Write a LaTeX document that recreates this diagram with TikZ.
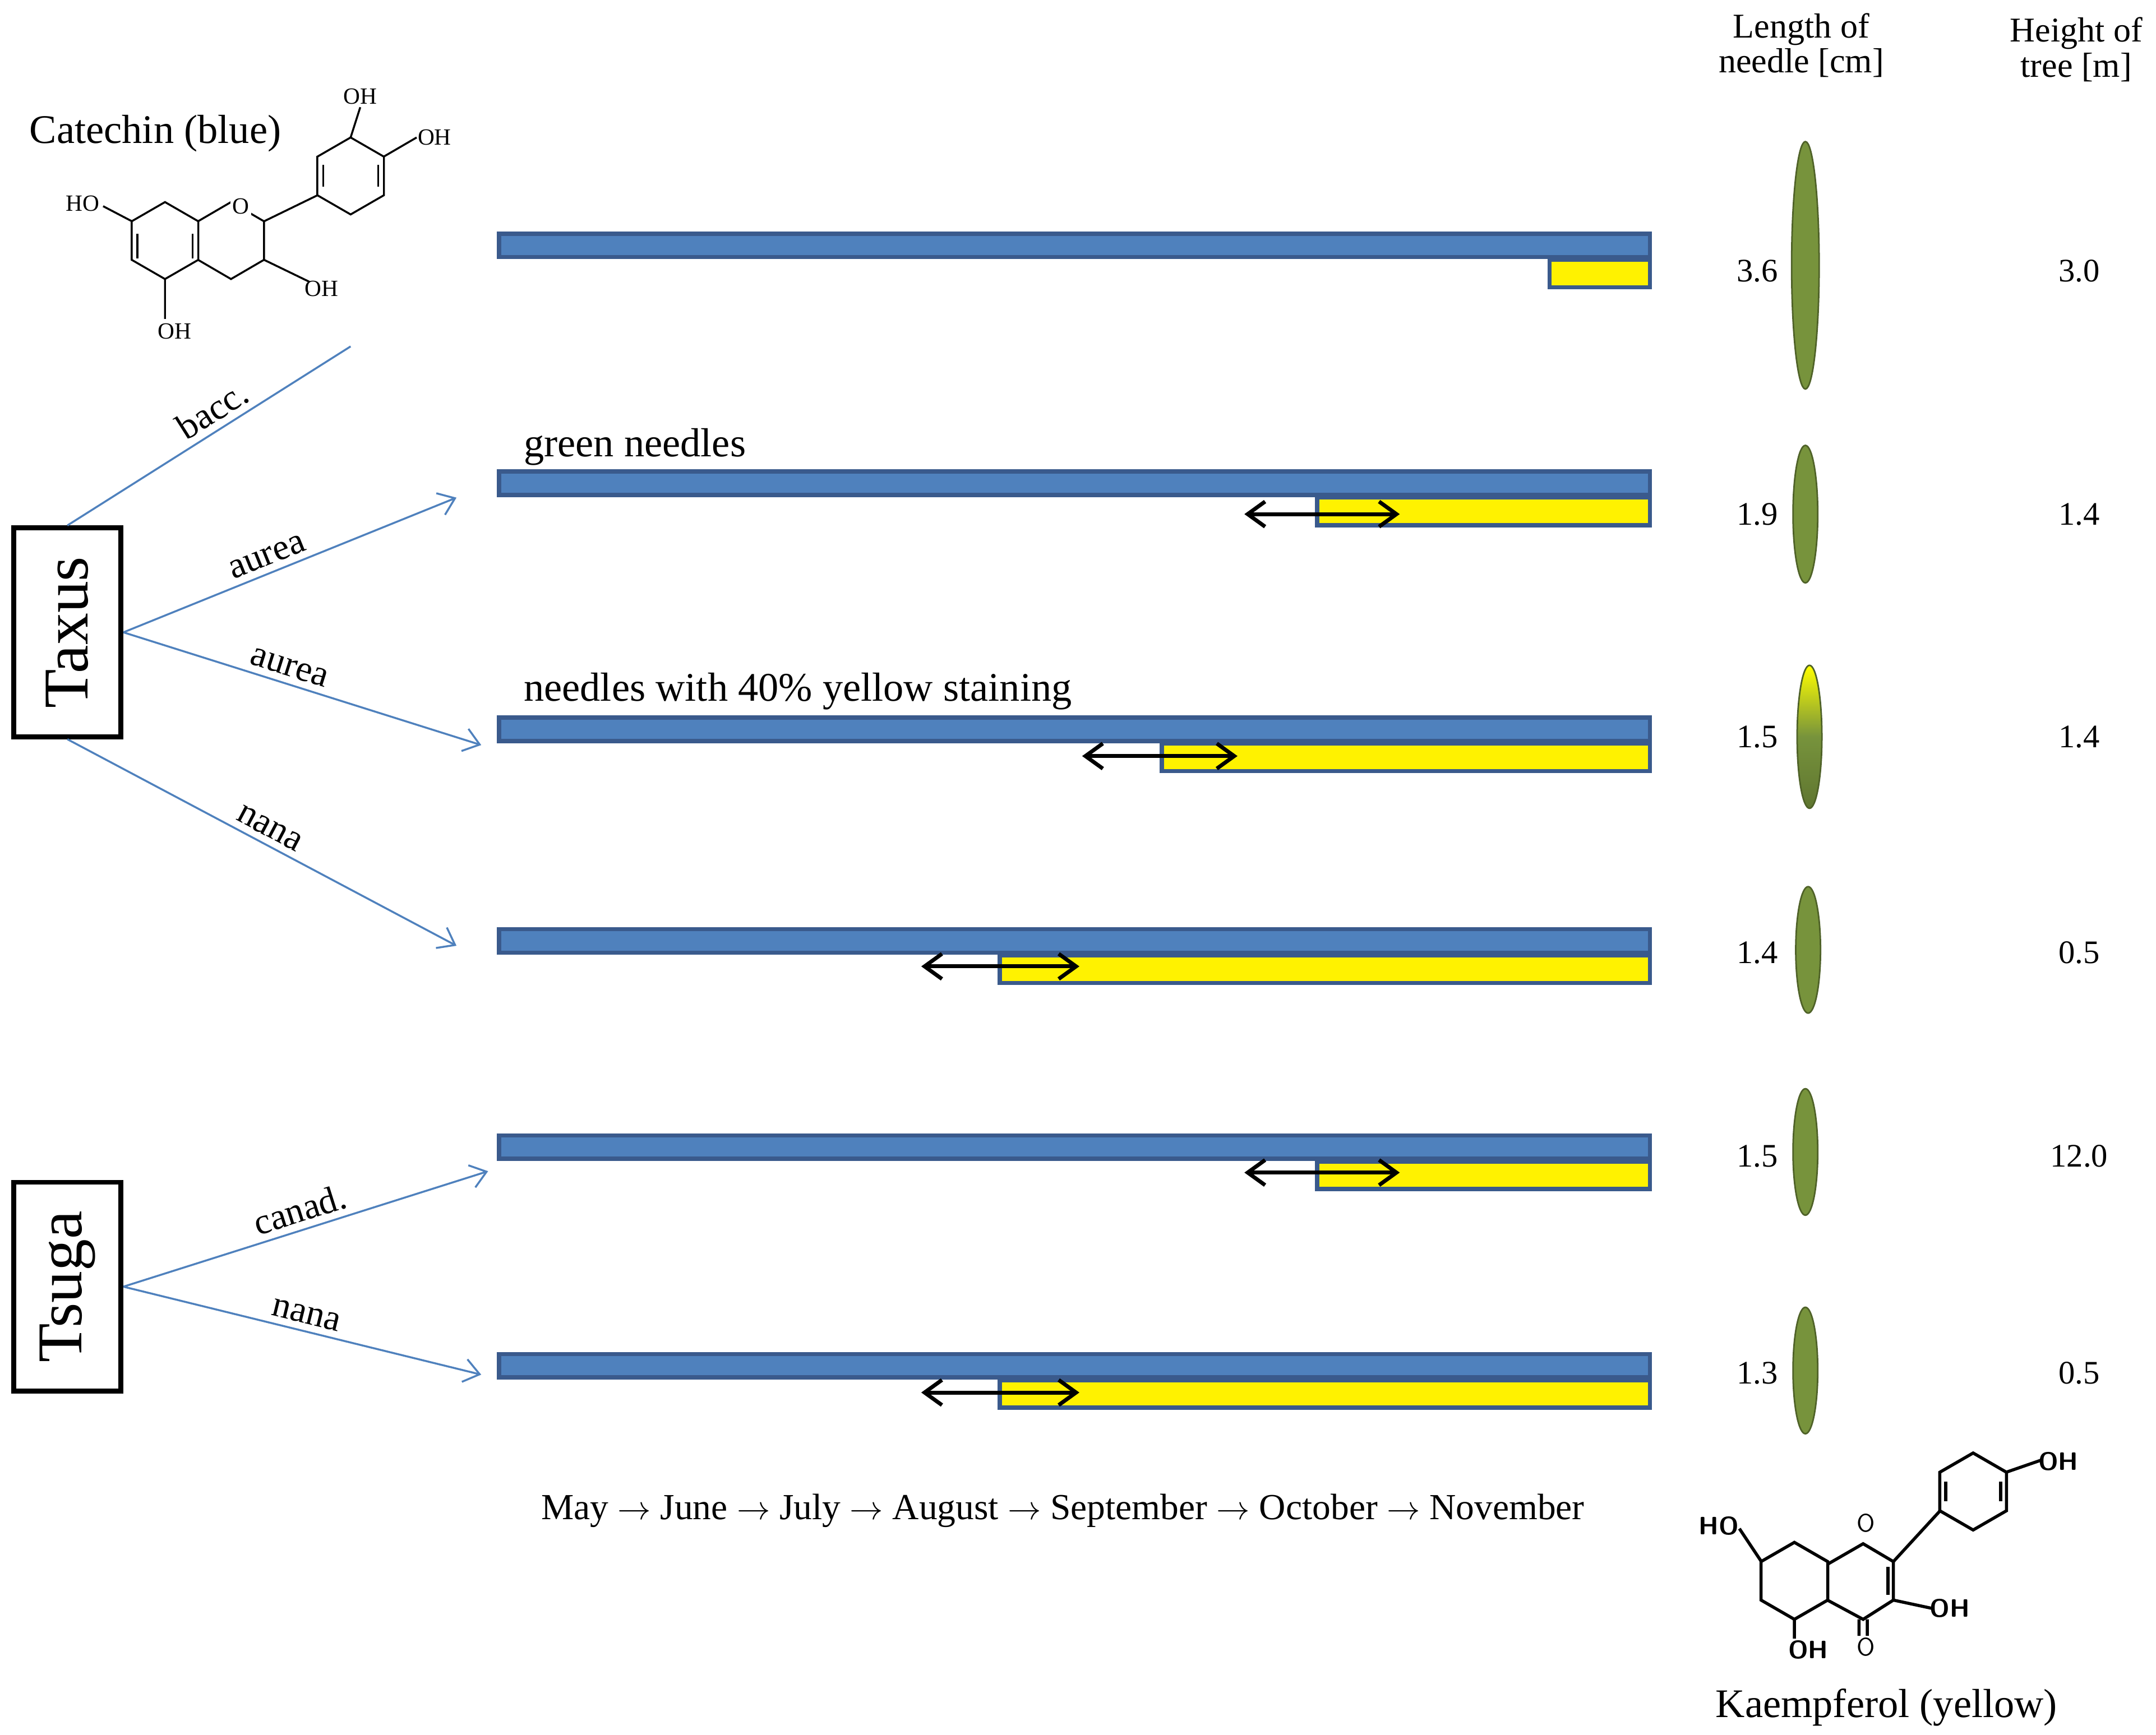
\documentclass[tikz,border=0pt]{standalone}
\usepackage{fontspec}
\setmainfont{Liberation Serif}
\usetikzlibrary{arrows.meta,shapes.geometric}
\definecolor{bfill}{HTML}{4F81BD}
\definecolor{bline}{HTML}{3A5A8C}
\definecolor{ndl}{HTML}{77933C}
\definecolor{ndld}{HTML}{4F6228}
\begin{document}
\begin{tikzpicture}[x=0.025cm,y=-0.025cm,
 bluebar/.style={draw=bline,line width=2.2pt,fill=bfill},
 yelbar/.style={draw=bline,line width=2.2pt,fill=yellow},
 dbl/.style={{Straight Barb[length=9pt,width=13pt]}-{Straight Barb[length=9pt,width=13pt]},line width=2pt},
 br/.style={draw=bfill,line width=1pt},
 bra/.style={br,-{Straight Barb[length=8pt,width=12pt]}},
 lab/.style={font=\fontsize{19}{19}\selectfont},
 val/.style={font=\fontsize{17}{17}\selectfont},
 genus/.style={draw,line width=2.5pt,minimum width=78*0.025cm,minimum height=152*0.025cm},
 needle/.style={ellipse,draw=ndld,fill=ndl,line width=0.8pt,inner sep=0pt},
 bond/.style={line width=1pt},
 chem/.style={font=\fontsize{12}{12}\selectfont,inner sep=1pt}]
\useasboundingbox (0,0) rectangle (1568,1262);
% bars
\foreach \n/\y/\yx in {1/170/1127,2/343/958,3/522/845,4/676/727,5/826/958,6/985/727}{
 \draw[bluebar] (363,\y) rectangle (1200,\y+17);
 \draw[yelbar] (\yx,\y+19) rectangle (1200,\y+39);
}
\draw[dbl] (905,374) -- (1018,374);
\draw[dbl] (787,550) -- (900,550);
\draw[dbl] (670,703) -- (785,703);
\draw[dbl] (905,853) -- (1018,853);
\draw[dbl] (670,1013) -- (785,1013);
% genus boxes
\node[genus] (taxus) at (49,460) {};
\node[rotate=90,font=\fontsize{33}{33}\selectfont] at (taxus) {Taxus};
\node[genus] (tsuga) at (49,936) {};
\node[rotate=90,font=\fontsize{33}{33}\selectfont] at (tsuga) {Tsuga};
\coordinate (c0) at (255,252);
\coordinate (c1) at (332,362);
\coordinate (c2) at (350,542);
\coordinate (c3) at (332,688);
\coordinate (c4) at (355,852);
\coordinate (c5) at (350,1000);
\draw[br] (taxus.north) -- node[lab,sloped,above,pos=0.55] {bacc.} (c0);
\draw[bra] (taxus.east) -- node[lab,sloped,above,pos=0.45] {aurea} (c1);
\draw[bra] (taxus.east) -- node[lab,sloped,above,pos=0.45] {aurea} (c2);
\draw[bra] (taxus.south) -- node[lab,sloped,above,pos=0.5] {nana} (c3);
\draw[bra] (tsuga.east) -- node[lab,sloped,above,pos=0.5] {canad.} (c4);
\draw[bra] (tsuga.east) -- node[lab,sloped,above,pos=0.5] {nana} (c5);
% texts
\node[anchor=west,font=\fontsize{21}{21}\selectfont] at (376,325) {green needles};
\node[anchor=west,font=\fontsize{21}{21}\selectfont] at (376,503) {needles with 40\% yellow  staining};
\node[font=\fontsize{19}{19}\selectfont] at (773,1099) {May $\rightarrow$ June $\rightarrow$ July $\rightarrow$ August $\rightarrow$ September $\rightarrow$ October $\rightarrow$ November};
\node[val,align=center,font=\fontsize{18}{18}\selectfont] at (1310,33) {Length of\\needle [cm]};
\node[val,align=center,font=\fontsize{18}{18}\selectfont] at (1510,36) {Height of\\tree [m]};
\node[font=\fontsize{21}{21}\selectfont] at (113,97) {Catechin (blue)};
\node[font=\fontsize{21}{21}\selectfont] at (1372,1242) {Kaempferol (yellow)};
% needles and values
\node[needle,minimum width=20*0.025cm,minimum height=180*0.025cm] at (1313,193) {};
\node[needle,minimum width=18*0.025cm,minimum height=100*0.025cm] at (1313,374) {};
\node[needle,minimum width=18*0.025cm,minimum height=104*0.025cm,top color=yellow,bottom color=ndl!80!black,middle color=ndl] at (1316,536) {};
\node[needle,minimum width=18*0.025cm,minimum height=92*0.025cm] at (1315,691) {};
\node[needle,minimum width=18*0.025cm,minimum height=92*0.025cm] at (1313,838) {};
\node[needle,minimum width=18*0.025cm,minimum height=92*0.025cm] at (1313,997) {};
\foreach \y/\a/\b in {197/3.6/3.0,374/1.9/1.4,536/1.5/1.4,693/1.4/0.5,841/1.5/12.0,999/1.3/0.5}{
 \node[val] at (1278,\y) {\a};
 \node[val] at (1512,\y) {\b};
}
% catechin
\begin{scope}[bond]
\def\r{28}
\draw (120,175) ++(90:\r) -- ++(-150:\r) -- ++(-90:\r) -- ++(-30:\r) -- ++(30:\r) -- ++(90:\r) -- cycle;
\draw (100,170) -- (100,188) (140,170) -- (140,188);
\draw (144,161) -- (168,147) -- (192,161) -- (192,189) -- (168,203) -- (144,189);
\draw (192,161) -- (231,142);
\draw (255,128) ++(90:\r) -- ++(-150:\r) -- ++(-90:\r) -- ++(-30:\r) -- ++(30:\r) -- ++(90:\r) -- cycle;
\draw (235,120) -- (235,136) (275,120) -- (275,136);
\draw (120,203) -- (120,232) (96,161) -- (75,150) (192,189) -- (225,205);
\draw (255,100) -- (262,78) (279,114) -- (303,100);
\end{scope}
\node[chem] at (60,148) {HO};
\node[chem] at (127,241) {OH};
\node[chem,fill=white] at (175,150) {O};
\node[chem] at (234,210) {OH};
\node[chem] at (262,70) {OH};
\node[chem] at (316,100) {OH};
% kaempferol
\begin{scope}[bond,line width=1.6pt]
\def\r{28}
\draw (1305,1150) ++(90:\r) -- ++(-150:\r) -- ++(-90:\r) -- ++(-30:\r) -- ++(30:\r) -- ++(90:\r) -- cycle;
\draw (1329,1138) -- (1355,1123) -- (1377,1136) -- (1377,1164) -- (1355,1178) -- (1329,1164);
\draw (1373,1140) -- (1373,1160);
\draw (1377,1136) -- (1411,1099);
\draw (1435,1085) ++(90:\r) -- ++(-150:\r) -- ++(-90:\r) -- ++(-30:\r) -- ++(30:\r) -- ++(90:\r) -- cycle;
\draw (1415,1078) -- (1415,1092) (1455,1078) -- (1455,1092);
\draw (1281,1136) -- (1265,1112) (1305,1178) -- (1305,1192) (1352,1178) -- (1352,1190) (1358,1178) -- (1358,1190) (1377,1164) -- (1405,1170) (1459,1071) -- (1485,1062);
\end{scope}
\node[chem,font=\fontsize{13}{13}\bfseries\sffamily] at (1250,1110) {HO};
\node[chem,font=\fontsize{13}{13}\bfseries\sffamily] at (1315,1200) {OH};
\node[chem,font=\fontsize{13}{13}\sffamily,fill=white] at (1357,1108) {O};
\node[chem,font=\fontsize{13}{13}\sffamily] at (1357,1198) {O};
\node[chem,font=\fontsize{13}{13}\bfseries\sffamily] at (1418,1170) {OH};
\node[chem,font=\fontsize{13}{13}\bfseries\sffamily] at (1497,1063) {OH};
\end{tikzpicture}
\end{document}
